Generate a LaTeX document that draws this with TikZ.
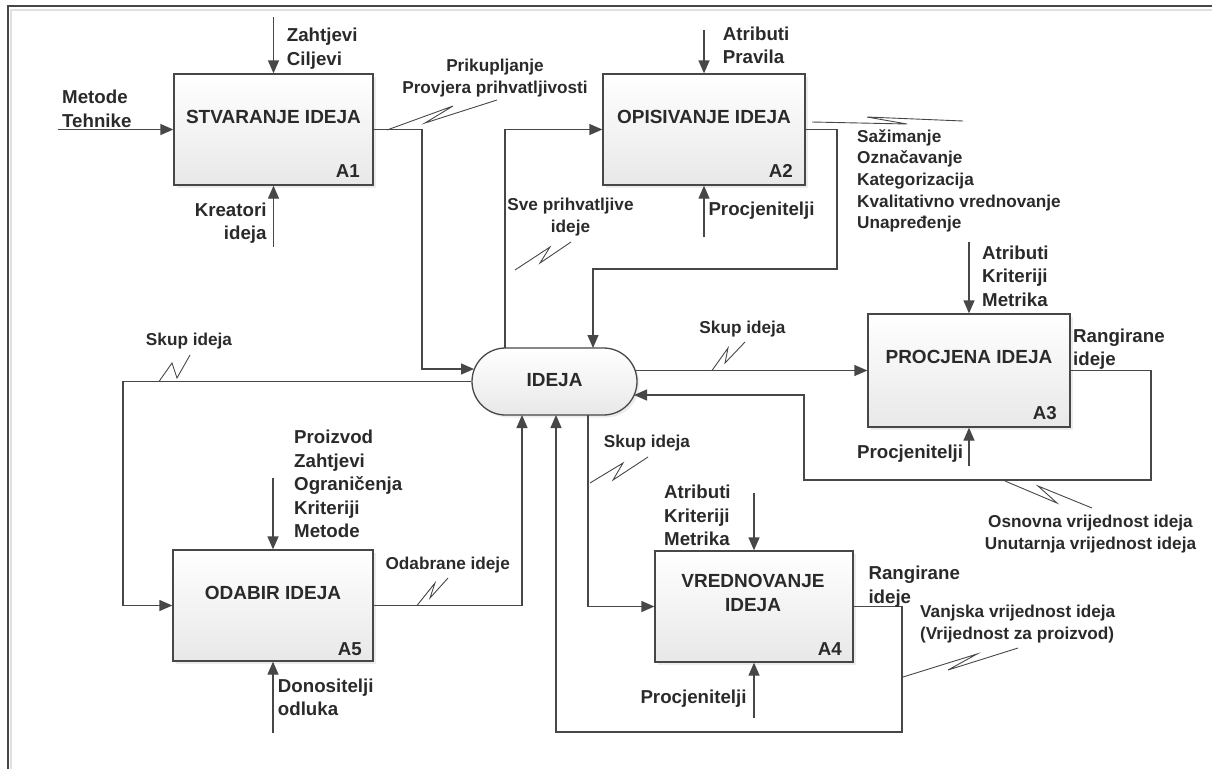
\documentclass[tikz,border=0pt]{standalone}
\usepackage{fontspec}
\setmainfont{Liberation Sans}
\usetikzlibrary{arrows.meta,shadows,calc}
\definecolor{ln}{HTML}{474747}
\definecolor{tx}{HTML}{2A2A2A}
\newcommand\ttlfont{\fontsize{19}{24.5}\selectfont\bfseries}
\newcommand\lblfont{\fontsize{18.7}{23.5}\selectfont\bfseries}
\newcommand\sqfont{\fontsize{17.2}{21.6}\selectfont\bfseries}
\tikzset{
  box/.style={draw=ln, line width=1.3pt, top color=white, bottom color=black!9,
    drop shadow={shadow xshift=2.5pt, shadow yshift=-2.5pt, fill=black!15, opacity=0.5},
    inner sep=0pt},
  ttl/.style={inner sep=0pt, font=\ttlfont, text=tx, align=center},
  lbl/.style={inner sep=0pt, font=\lblfont, text=tx},
  sql/.style={inner sep=0pt, font=\sqfont, text=tx, align=center},
  code/.style={inner sep=0pt, font=\lblfont, text=tx, anchor=base east},
  arr/.style={draw=ln, line width=1.3pt, -{Triangle[length=13pt,width=11pt]}},
  sq/.style={draw=ln, line width=0.9pt, line join=miter},
}
\begin{document}
\begin{tikzpicture}[x=1pt,y=-1pt]
\useasboundingbox (0,0) rectangle (1212,769);
% frame
\draw[black!12, line width=2pt] (1212,10) -- (11,10) -- (11,769);
\draw[ln, line width=1.6pt] (1212,6) -- (8,6) -- (8,769);

% boxes
\node[box, minimum width=199pt, minimum height=111pt] (A1) at (273.5,129.5) {};
\node[box, minimum width=202pt, minimum height=111pt] (A2) at (704,129.5) {};
\node[box, minimum width=202pt, minimum height=113pt] (A3) at (969,370.5) {};
\node[box, minimum width=198pt, minimum height=111pt] (A4) at (754,606.5) {};
\node[box, minimum width=200pt, minimum height=111pt] (A5) at (273,605.5) {};
\node[box, rounded corners=33.5pt, minimum width=165pt, minimum height=67pt] (I) at (554.5,381.5) {};

% titles
\node[ttl] (t1) at (273.5,117) {STVARANJE IDEJA};
\node[ttl] (t2) at (704,117) {OPISIVANJE IDEJA};
\node[ttl] (t3) at (969,357) {PROCJENA IDEJA};
\node[ttl] (t4) at (753,593) {VREDNOVANJE\\IDEJA};
\node[ttl] (t5) at (273,593) {ODABIR IDEJA};
\node[ttl] (tI) at (554.5,380.5) {IDEJA};

% box codes
\node[code] (c1) at (360,177.5) {A1};
\node[code] (c2) at (793,177) {A2};
\node[code] (c3) at (1057,419.5) {A3};
\node[code] (c4) at (842,655) {A4};
\node[code] (c5) at (362,655) {A5};

% free ends
\coordinate (mIn) at (58,129.5);
\coordinate (zIn) at (273.5,17);
\coordinate (kIn) at (273.5,247);
\coordinate (aIn2) at (704,30);
\coordinate (pIn2) at (704,237);
\coordinate (aIn3) at (969,242);
\coordinate (pIn3) at (969,466);
\coordinate (aIn4) at (754,493);
\coordinate (pIn4) at (754,718);
\coordinate (aIn5) at (273,478);
\coordinate (dIn5) at (273,733);
% points on IDEJA border
\coordinate (i1) at (474,369);
\coordinate (i2) at (505,348);
\coordinate (i3) at (593,348);
\coordinate (o3) at (635,370.5);
\coordinate (i4) at (634,395);
\coordinate (i5) at (522,415);
\coordinate (o4) at (588,415);
\coordinate (i6) at (556,415);

% connectors
\draw[arr] (mIn) -- (A1.west);
\draw[arr] (zIn) -- (A1.north);
\draw[arr] (kIn) -- (A1.south);
\draw[arr] (A1.east) -| (422,369) -- (i1);
\draw[arr] (i2) |- (A2.west);
\draw[arr] (aIn2) -- (A2.north);
\draw[arr] (pIn2) -- (A2.south);
\draw[arr] (A2.east) -| (837,269) -| (i3);
\draw[arr] (o3) -- (A3.west);
\draw[arr] (aIn3) -- (A3.north);
\draw[arr] (pIn3) -- (A3.south);
\draw[arr] (A3.east) -| (1151,480) -| (804,395) -- (i4);
\draw[arr] (I.west) -| (123,605.5) -- (A5.west);
\draw[arr] (aIn5) -- (A5.north);
\draw[arr] (dIn5) -- (A5.south);
\draw[arr] (A5.east) -| (i5);
\draw[arr] (o4) |- (A4.west);
\draw[arr] (aIn4) -- (A4.north);
\draw[arr] (pIn4) -- (A4.south);
\draw[arr] (A4.east) -| (902,732) -| (i6);

% squiggles
\draw[sq] (387,130) -- (453,106) -- (425,123) -- (497,100);
\draw[sq] (812,122) -- (907,124) -- (867,117) -- (963,121);
\draw[sq] (515,270) -- (550,247) -- (540,263) -- (571,242);
\draw[sq] (712,370.5) -- (728,348) -- (725,363) -- (745,342);
\draw[sq] (1005,481) -- (1057,503) -- (1038,486) -- (1092,508);
\draw[sq] (159,381.5) -- (172,363) -- (177,378) -- (190,355);
\draw[sq] (417,605.5) -- (435,583) -- (430,598) -- (448,578);
\draw[sq] (590,483) -- (623,463) -- (613,480) -- (648,457);
\draw[sq] (903,677) -- (977,654) -- (948,670) -- (1018,648);

% arrow labels
\node[lbl, anchor=north west, align=left] (l1) at (286.7,28) {Zahtjevi\\Ciljevi};
\node[lbl, anchor=north west, align=left] (l2) at (62,90) {Metode\\Tehnike};
\node[lbl, anchor=north east, align=right] (l3) at (266.7,202.7) {Kreatori\\ideja};
\node[lbl, anchor=north west, align=left] (l4) at (722.7,26.7) {Atributi\\Pravila};
\node[lbl, anchor=north west, align=left] (l5) at (708.3,201.7) {Procjenitelji};
\node[lbl, anchor=north west, align=left] (l6) at (982,245.7) {Atributi\\Kriteriji\\Metrika};
\node[lbl, anchor=north west, align=left] (l7) at (1073,328.3) {Rangirane\\ideje};
\node[lbl, anchor=north east, align=right] (l8) at (963.3,445) {Procjenitelji};
\node[lbl, anchor=north west, align=left] (l9) at (294,430) {Proizvod\\Zahtjevi\\Ograničenja\\Kriteriji\\Metode};
\node[lbl, anchor=north west, align=left] (l10) at (277.7,678.3) {Donositelji\\odluka};
\node[lbl, anchor=north west, align=left] (l11) at (664,485) {Atributi\\Kriteriji\\Metrika};
\node[lbl, anchor=north east, align=right] (l12) at (746.7,689.3) {Procjenitelji};
\node[lbl, anchor=north west, align=left] (l13) at (868.3,566) {Rangirane\\ideje};

% squiggle labels
\node[sql, anchor=north] (s1) at (495,59) {Prikupljanje\\Provjera prihvatljivosti};
\node[sql, anchor=north west, align=left] (s2) at (857,129.3) {Sažimanje\\Označavanje\\Kategorizacija\\Kvalitativno vrednovanje\\Unapređenje};
\node[sql, anchor=north] (s3) at (570.5,198.3) {Sve prihvatljive\\ideje};
\node[sql, anchor=north] (s4) at (742.5,320.7) {Skup ideja};
\node[sql, anchor=north] (s5) at (1090.5,515) {Osnovna vrijednost ideja\\Unutarnja vrijednost ideja};
\node[sql, anchor=north] (s6) at (189,333.3) {Skup ideja};
\node[sql, anchor=north] (s7) at (447.7,556.7) {Odabrane ideje};
\node[sql, anchor=north] (s8) at (647,435) {Skup ideja};
\node[sql, anchor=north west, align=left] (s9) at (920,605) {Vanjska vrijednost ideja\\(Vrijednost za proizvod)};
\end{tikzpicture}
\end{document}
